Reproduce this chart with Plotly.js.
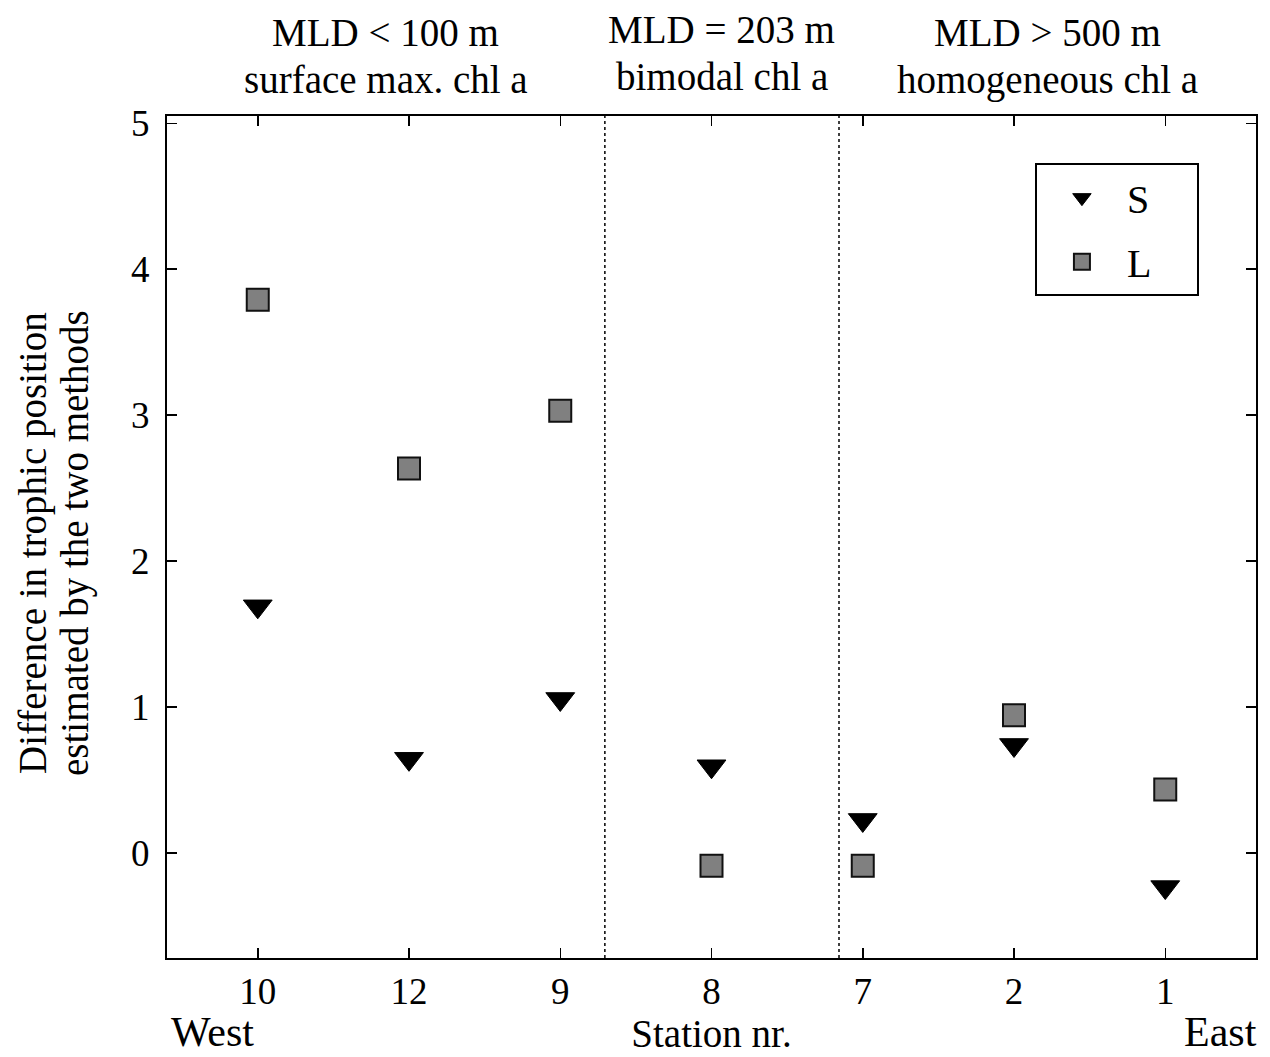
<!DOCTYPE html>
<html>
<head>
<meta charset="utf-8">
<script src="https://cdn.plot.ly/plotly-3.0.1.min.js"></script>
<style>html,body{margin:0;padding:0;background:#fff;}#chart{width:1270px;height:1057px;}</style>
</head>
<body>
<div id="chart"></div>
<script>
// Data
const stations = ["10", "12", "9", "8", "7", "2", "1"];
const seriesS = [1.69, 0.645, 1.055, 0.594, 0.226, 0.74, -0.234];
const seriesL = [3.79, 2.634, 3.03, -0.087, -0.087, 0.943, 0.435];
const seriesNames = ["S", "L"];
const yTicks = [0, 1, 2, 3, 4, 5];
const dividers = [2.295, 3.843];
const sectionLine1 = ["MLD < 100 m", "MLD = 203 m", "MLD > 500 m"];
const sectionLine2 = ["surface max. chl a", "bimodal chl a", "homogeneous chl a"];
const yTitleLines = ["Difference in trophic position", "estimated by the two methods"];
const xRange = [-0.6, 6.6];
const yRange = [-0.72, 5.05];

const FONT = "Liberation Serif, Times New Roman, serif";
const f = (s) => ({family: FONT, size: s, color: "#000"});
const pad = "\u00a0\u00a0\u00a0\u00a0";

const traces = [
  {
    x: stations, y: seriesS, name: seriesNames[0] + pad, legendgroup: "s", type: "scatter", mode: "markers",
    marker: {symbol: "triangle-down", size: 25, color: "#000", line: {color: "#000", width: 1}}
  },
  {
    x: stations, y: seriesL, name: seriesNames[1] + pad, legendgroup: "l", type: "scatter", mode: "markers",
    marker: {symbol: "square", size: 22, color: "#808080", line: {color: "#111", width: 2}}
  }
];

const bounds = [xRange[0]].concat(dividers, [xRange[1]]);
const annotations = [];
sectionLine1.forEach((t, i) => {
  const cx = (bounds[i] + bounds[i + 1]) / 2;
  annotations.push({text: t, xref: "x", yref: "paper", x: cx, y: i === 1 ? 1.1033 : 1.0986,
    xanchor: "center", yanchor: "middle", showarrow: false, font: f(39)});
  annotations.push({text: sectionLine2[i], xref: "x", yref: "paper", x: cx, y: i === 1 ? 1.0475 : 1.0428,
    xanchor: "center", yanchor: "middle", showarrow: false, font: f(39)});
});
annotations.push({text: yTitleLines[0], xref: "paper", yref: "paper", x: -0.123, y: 0.4929,
  xanchor: "center", yanchor: "middle", textangle: -90, showarrow: false, font: f(39)});
annotations.push({text: yTitleLines[1], xref: "paper", yref: "paper", x: -0.0845, y: 0.4929,
  xanchor: "center", yanchor: "middle", textangle: -90, showarrow: false, font: f(39)});
annotations.push({text: "West", xref: "paper", yref: "paper", x: 0, y: -0.088,
  xanchor: "left", yanchor: "middle", xshift: 2, showarrow: false, font: f(42)});
annotations.push({text: "East", xref: "paper", yref: "paper", x: 1, y: -0.088,
  xanchor: "right", yanchor: "middle", xshift: 3, showarrow: false, font: f(42)});

const shapes = dividers.map(d => ({
  type: "line", xref: "x", yref: "paper", x0: d, x1: d, y0: 0, y1: 1,
  line: {color: "#000", width: 1.5, dash: "dot"}
}));

const layout = {
  width: 1270, height: 1057,
  margin: {l: 167, r: 14, t: 116, b: 99},
  paper_bgcolor: "#fff", plot_bgcolor: "#fff",
  font: f(37),
  showlegend: true,
  legend: {
    x: 0.797, y: 0.944, xanchor: "left", yanchor: "top",
    bordercolor: "#000", borderwidth: 2, bgcolor: "#fff",
    font: f(40), itemsizing: "trace", itemwidth: 80,
    traceorder: "grouped", tracegroupgap: 9
  },
  xaxis: {
    type: "category", range: xRange, autorange: false,
    showline: true, linecolor: "#000", linewidth: 2, mirror: "ticks",
    ticks: "inside", ticklen: 10, tickwidth: 1.5, tickcolor: "#000",
    showgrid: false, zeroline: false, ticklabelstandoff: 0,
    tickfont: f(37),
    title: {text: "Station nr.", font: f(39), standoff: 2}
  },
  yaxis: {
    range: yRange, autorange: false, tickvals: yTicks,
    showline: true, linecolor: "#000", linewidth: 2, mirror: "ticks",
    ticks: "inside", ticklen: 10, tickwidth: 1.5, tickcolor: "#000",
    showgrid: false, zeroline: false, ticklabelstandoff: 8,
    tickfont: f(37)
  },
  shapes: shapes,
  annotations: annotations
};

Plotly.newPlot("chart", traces, layout, {displayModeBar: false, staticPlot: true});
</script>
</body>
</html>
